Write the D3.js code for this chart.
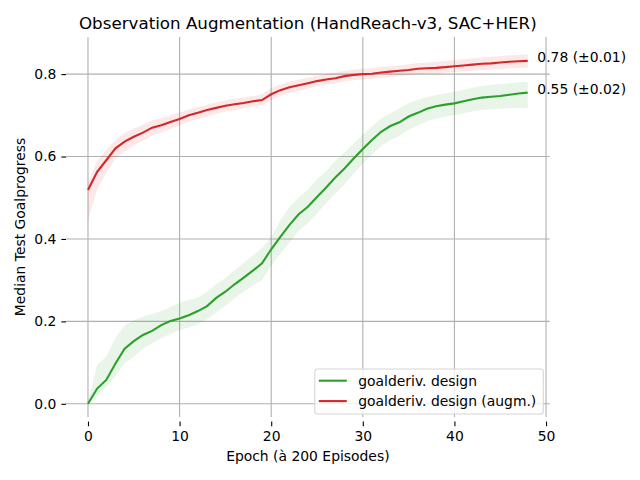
<!DOCTYPE html>
<html>
<head>
<meta charset="utf-8">
<script src="https://cdn.jsdelivr.net/npm/d3@7"></script>
<style>
  body { margin: 0; background: #fff; }
  svg { display: block; font-family: 'DejaVu Sans', sans-serif; }
  .grid line { stroke: #b0b0b0; stroke-width: 1.1; }
  .axis text { font-size: 13.9px; fill: #000; }
  .axis line { stroke: #000; stroke-width: 1.1; }
  .line { fill: none; stroke-width: 2.1; }
</style>
</head>
<body>
<svg id="chart"></svg>
<script>
// epochs 0..48
const epochs = [
  0, 1, 2, 3, 4, 5, 6, 7, 8, 9, 10, 11, 12, 13, 14, 15, 16, 17, 18, 19, 20, 21, 22, 23, 24,
  25, 26, 27, 28, 29, 30, 31, 32, 33, 34, 35, 36, 37, 38, 39, 40, 41, 42, 43, 44, 45, 46, 47, 48,
];

// goalderiv. design
const greenMean = [
  0.000, 0.037, 0.058, 0.098, 0.134, 0.152, 0.167, 0.177, 0.191, 0.201, 0.207, 0.215, 0.225,
  0.237, 0.257, 0.272, 0.290, 0.306, 0.323, 0.341, 0.375, 0.405, 0.434, 0.460, 0.478, 0.502,
  0.525, 0.549, 0.571, 0.595, 0.618, 0.640, 0.660, 0.674, 0.683, 0.697, 0.706, 0.716, 0.722,
  0.726, 0.729, 0.734, 0.739, 0.743, 0.745, 0.747, 0.750, 0.753, 0.755,
];
const greenHi = [
  0.005, 0.095, 0.115, 0.160, 0.190, 0.203, 0.211, 0.218, 0.225, 0.235, 0.245, 0.252, 0.258,
  0.272, 0.290, 0.305, 0.324, 0.342, 0.360, 0.378, 0.405, 0.445, 0.478, 0.500, 0.520, 0.545,
  0.565, 0.590, 0.610, 0.632, 0.652, 0.673, 0.693, 0.705, 0.717, 0.729, 0.737, 0.744, 0.749,
  0.753, 0.757, 0.762, 0.767, 0.771, 0.774, 0.776, 0.778, 0.780, 0.781,
];
const greenLo = [
  0.000, 0.017, 0.041, 0.066, 0.099, 0.114, 0.134, 0.147, 0.159, 0.170, 0.179, 0.185, 0.193,
  0.205, 0.222, 0.238, 0.256, 0.272, 0.287, 0.300, 0.335, 0.365, 0.390, 0.420, 0.438, 0.462,
  0.487, 0.510, 0.533, 0.558, 0.583, 0.605, 0.625, 0.640, 0.650, 0.665, 0.675, 0.685, 0.692,
  0.697, 0.700, 0.705, 0.710, 0.713, 0.715, 0.716, 0.717, 0.718, 0.718,
];

// goalderiv. design (augm.)
const redMean = [
  0.519, 0.563, 0.591, 0.620, 0.636, 0.648, 0.658, 0.670, 0.676, 0.684, 0.691, 0.700, 0.706,
  0.713, 0.718, 0.723, 0.727, 0.730, 0.734, 0.737, 0.751, 0.761, 0.768, 0.773, 0.778, 0.783,
  0.787, 0.790, 0.795, 0.798, 0.800, 0.801, 0.804, 0.806, 0.808, 0.810, 0.813, 0.814, 0.815,
  0.817, 0.819, 0.821, 0.823, 0.825, 0.826, 0.828, 0.830, 0.831, 0.832,
];
const redHi = [
  0.535, 0.590, 0.615, 0.640, 0.657, 0.668, 0.677, 0.688, 0.693, 0.700, 0.706, 0.714, 0.720,
  0.726, 0.731, 0.736, 0.740, 0.743, 0.747, 0.751, 0.766, 0.775, 0.782, 0.786, 0.791, 0.796,
  0.800, 0.803, 0.808, 0.811, 0.813, 0.814, 0.817, 0.819, 0.821, 0.824, 0.827, 0.828, 0.830,
  0.832, 0.834, 0.836, 0.838, 0.840, 0.842, 0.844, 0.846, 0.847, 0.848,
];
const redLo = [
  0.445, 0.520, 0.560, 0.595, 0.612, 0.627, 0.638, 0.651, 0.658, 0.667, 0.675, 0.685, 0.691,
  0.698, 0.704, 0.709, 0.713, 0.717, 0.721, 0.724, 0.737, 0.747, 0.754, 0.759, 0.765, 0.770,
  0.774, 0.777, 0.782, 0.785, 0.787, 0.788, 0.791, 0.793, 0.795, 0.797, 0.800, 0.801, 0.801,
  0.803, 0.805, 0.806, 0.808, 0.810, 0.811, 0.812, 0.814, 0.815, 0.816,
];

const seriesNames = ['goalderiv. design', 'goalderiv. design (augm.)'];
const finalLabels = ['0.55 (±0.02)', '0.78 (±0.01)'];
const xTicks = [0, 10, 20, 30, 40, 50];
const yTicks = [0.0, 0.2, 0.4, 0.6, 0.8];

const width = 640;
const height = 480;
const colors = ['#2ca02c', '#d62728'];
const fills = ['rgba(44,160,44,0.1)', 'rgba(214,39,40,0.1)'];

// plot area (pixels)
const plotLeft = 66;
const plotRight = 549.7;
const plotTop = 37;
const plotBottom = 417;

const xScale = d3.scaleLinear().domain([-2.4, 50.4]).range([plotLeft, plotRight]);
const yScale = d3.scaleLinear().domain([-0.032, 0.890]).range([plotBottom, plotTop]);

const series = [
  { mean: greenMean, lo: greenLo, hi: greenHi },
  { mean: redMean, lo: redLo, hi: redHi },
];

const svg = d3.select('#chart').attr('width', width).attr('height', height);

// grid
const grid = svg.append('g').attr('class', 'grid');
grid.selectAll('.vx')
  .data(xTicks)
  .join('line')
  .attr('class', 'vx')
  .attr('x1', d => xScale(d)).attr('x2', d => xScale(d))
  .attr('y1', plotTop).attr('y2', plotBottom);
grid.selectAll('.hy')
  .data(yTicks)
  .join('line')
  .attr('class', 'hy')
  .attr('x1', plotLeft).attr('x2', plotRight)
  .attr('y1', d => yScale(d)).attr('y2', d => yScale(d));

// bands and lines
const area = d3.area()
  .x((d, i) => xScale(epochs[i]))
  .y0(d => yScale(d[0]))
  .y1(d => yScale(d[1]));

const valueline = d3.line()
  .x((d, i) => xScale(epochs[i]))
  .y(d => yScale(d));

series.forEach((s, k) => {
  svg.append('path')
    .datum(s.lo.map((v, i) => [v, s.hi[i]]))
    .attr('fill', fills[k])
    .attr('d', area);
});

series.forEach((s, k) => {
  svg.append('path')
    .datum(s.mean)
    .attr('class', 'line')
    .style('stroke', colors[k])
    .attr('d', valueline);
});

// end value labels
series.forEach((s, k) => {
  const last = s.mean.length - 1;
  svg.append('text')
    .attr('x', xScale(epochs[last]) + 9.6)
    .attr('y', yScale(s.mean[last]) + 1)
    .attr('font-size', '13.9px')
    .text(finalLabels[k]);
});

// axes (spines hidden)
const xAxis = d3.axisBottom(xScale).tickValues(xTicks).tickFormat(d3.format('d'))
  .tickSize(4.6).tickPadding(4.5);
const yAxis = d3.axisLeft(yScale).tickValues(yTicks).tickFormat(d3.format('.1f'))
  .tickSize(4.6).tickPadding(5);

const gx = svg.append('g')
  .attr('class', 'axis')
  .attr('transform', `translate(0,${plotBottom + 4.6})`)
  .call(xAxis);
gx.select('.domain').remove();
gx.attr('font-family', null);

const gy = svg.append('g')
  .attr('class', 'axis')
  .attr('transform', `translate(${plotLeft},0)`)
  .call(yAxis);
gy.select('.domain').remove();
gy.attr('font-family', null);

// labels
svg.append('text')
  .attr('text-anchor', 'middle')
  .attr('x', (plotLeft + plotRight) / 2)
  .attr('y', 29)
  .attr('font-size', '16.7px')
  .text('Observation Augmentation (HandReach-v3, SAC+HER)');

svg.append('text')
  .attr('text-anchor', 'middle')
  .attr('x', (plotLeft + plotRight) / 2)
  .attr('y', 460.5)
  .attr('font-size', '13.9px')
  .text('Epoch (à 200 Episodes)');

svg.append('text')
  .attr('text-anchor', 'middle')
  .attr('transform', `translate(25,${(plotTop + plotBottom) / 2}) rotate(-90)`)
  .attr('font-size', '13.9px')
  .text('Median Test Goalprogress');

// legend, lower right
const legend = svg.append('g');
const box = legend.append('rect')
  .attr('rx', 2.8)
  .attr('fill', 'rgba(255,255,255,0.8)')
  .attr('stroke', '#d6d6d6')
  .attr('stroke-width', 1.1);

let textW = 0;
seriesNames.forEach((name, k) => {
  const yy = 380.7 + k * 20.4;
  legend.append('line')
    .attr('x1', 0).attr('x2', 28)
    .attr('y1', yy).attr('y2', yy)
    .attr('stroke', colors[k])
    .attr('stroke-width', 2.1);
  const t = legend.append('text')
    .attr('x', 39.5)
    .attr('y', yy + 5)
    .attr('font-size', '13.9px')
    .text(name);
  textW = Math.max(textW, t.node().getComputedTextLength());
});

const boxW = 39.5 + textW + 11;
const boxRight = 543.3;
box.attr('x', -4).attr('y', 369).attr('width', boxW).attr('height', 45);
legend.attr('transform', `translate(${boxRight - boxW + 4},0)`);
</script>
</body>
</html>
